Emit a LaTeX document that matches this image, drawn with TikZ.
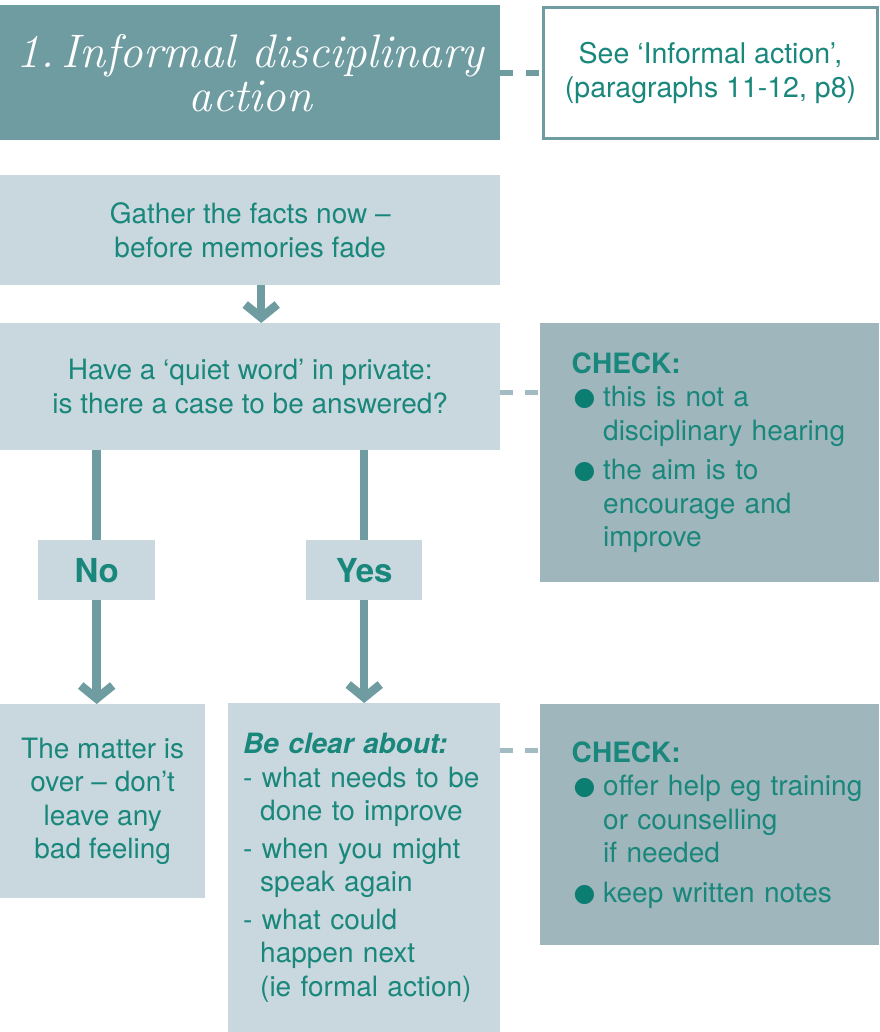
\documentclass[tikz,border=0pt]{standalone}
\usepackage{fontspec}
\setsansfont{TeX Gyre Heros}
\newfontfamily\symfont{DejaVu Sans}
\usetikzlibrary{arrows.meta, positioning}

\definecolor{darkteal}{HTML}{6E9CA1}
\definecolor{lightbox}{HTML}{C9D8DE}
\definecolor{checkfill}{HTML}{9FB6BC}
\definecolor{textteal}{HTML}{1A877C}
\definecolor{bulteal}{HTML}{0B7E71}
\definecolor{dashlight}{HTML}{A3BCC4}

\tikzstyle{box} = [fill=lightbox, inner sep=0pt, anchor=north west, text=textteal, align=center, font=\sffamily\fontsize{28}{33.5}\selectfont]
\tikzstyle{titlebox} = [fill=darkteal, inner sep=0pt, anchor=north west, text=white, align=center, font=\rmfamily\itshape\fontsize{47}{44}\selectfont]
\tikzstyle{seebox} = [box, fill=white, draw=darkteal, line width=3pt, font=\sffamily\fontsize{28.5}{34}\selectfont]
\tikzstyle{checkbox} = [box, fill=checkfill, align=left, text width=310pt]
\tikzstyle{answer} = [box, font=\sffamily\bfseries\fontsize{33}{33}\selectfont]
\tikzstyle{darkdash} = [draw=darkteal, line width=6pt, dash pattern=on 13pt off 13pt]
\tikzstyle{lightdash} = [draw=dashlight, line width=5pt, dash pattern=on 13pt off 12pt]
\tikzstyle{flowline} = [draw=darkteal, line width=8.5pt]
\tikzstyle{flowarrow} = [flowline, -{Straight Barb[length=13pt, width=32pt]}]

\newcommand{\chkhead}{\hspace*{17pt}\textbf{CHECK:}}
\newcommand{\bul}{\makebox[48.5pt][l]{\hspace{19pt}\raisebox{1pt}{\textcolor{bulteal}{\symfont\fontsize{25}{25}\selectfont ●}}}}
\newcommand{\ind}{\hspace*{48.5pt}}
\newcommand{\sub}{\hspace*{17pt}}

\begin{document}
\begin{tikzpicture}[x=1pt, y=-1pt]
	\useasboundingbox (0,0) rectangle (879,1032);

	% Titel und Verweis
	\node[titlebox, minimum width=500pt, minimum height=135pt] (title) at (0,5) {1.\,Informal disciplinary\\action};
	\node[seebox, minimum width=334pt, minimum height=131pt] (see) at (542,6) {See ‘Informal action’,\\(paragraphs 11-12, p8)};
	\draw[darkdash] (title.east) -- (title.east -| see.west);

	% Fakten und Gespraech
	\node[box, minimum width=500pt, minimum height=110pt] (gather) at (0,175) {Gather the facts now –\\before memories fade};
	\node[box, minimum width=500pt, minimum height=127pt] (quiet) at (0,323) {Have a ‘quiet word’ in private:\\is there a case to be answered?};
	\draw[flowarrow] ([xshift=11pt]gather.south) -- ([xshift=11pt]quiet.north);

	% erste Pruefung
	\node[checkbox, minimum width=339pt, minimum height=259pt] (check1) at (540,323) {%
		\chkhead\\
		\bul this is not a\\
		\ind disciplinary hearing\\[6pt]
		\bul the aim is to\\
		\ind encourage and\\
		\ind improve};
	\draw[lightdash] ([yshift=-6pt]quiet.east) -- ([yshift=-6pt]quiet.east -| check1.west);

	% Nein / Ja
	\node[answer, minimum width=117pt, minimum height=60pt] (no) at (38,540) {No};
	\node[answer, minimum width=116pt, minimum height=60pt] (yes) at (306,540) {Yes};

	\node[box, minimum width=205pt, minimum height=194pt] (matter) at (0,704) {The matter is\\over – don’t\\leave any\\bad feeling};
	\node[box, align=left, text width=242pt, minimum width=272pt, minimum height=329pt] (clear) at (228,703) {%
		\textbf{\itshape Be clear about:}\\
		- what needs to be\\
		\sub done to improve\\[4pt]
		- when you might\\
		\sub speak again\\[4pt]
		- what could\\
		\sub happen next\\
		\sub (ie formal action)};

	\draw[flowline] (quiet.south -| no) -- (no);
	\draw[flowarrow] (no) -- (no |- matter.north);
	\draw[flowline] (quiet.south -| yes) -- (yes);
	\draw[flowarrow] (yes) -- (yes |- clear.north);

	% zweite Pruefung
	\node[checkbox, minimum width=339pt, minimum height=241pt] (check2) at (540,704) {%
		\chkhead\\
		\bul offer help eg training\\
		\ind or counselling\\
		\ind if needed\\[6pt]
		\bul keep written notes};
	\draw[lightdash] ([yshift=-47pt]clear.north east) -- ([yshift=-47pt]clear.north east -| check2.west);
\end{tikzpicture}
\end{document}
